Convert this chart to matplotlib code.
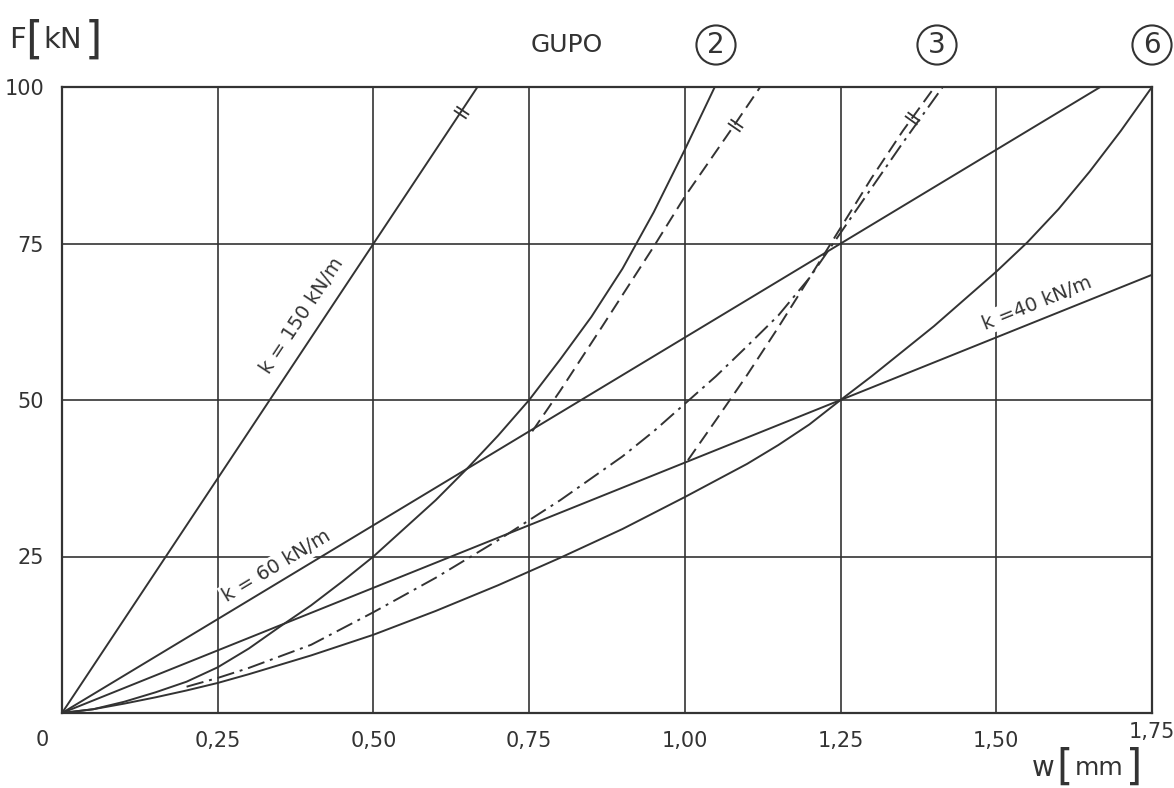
import numpy as np
import matplotlib.pyplot as plt
from matplotlib.path import Path
from matplotlib.markers import MarkerStyle
from matplotlib.transforms import Affine2D

W, H = 1174, 788
ink = '#333333'

# straight lines k = const from the origin, end point on the frame
k_text = ['k = 150 kN/m', 'k = 60 kN/m', 'k =40 kN/m']
k_w = [0.667, 1.667, 1.75]
k_F = [100, 100, 70]

# GUPO 2, solid
w2 = [0, 0.05, 0.1, 0.15, 0.2, 0.25, 0.3, 0.35, 0.4, 0.45, 0.5, 0.6, 0.65, 0.7,
      0.75, 0.8, 0.85, 0.9, 0.95, 1.0, 1.048]
F2 = [0, 0.6, 1.8, 3.3, 5.0, 7.3, 10.3, 13.8, 17.2, 21, 25, 34, 39, 44.3,
      50, 56.5, 63.3, 71, 80, 90, 100]
# GUPO 2, dashed
w2d = [0.755, 0.80, 0.867, 0.95, 1.0, 1.08, 1.121]
F2d = [45, 51.5, 61.7, 74.5, 82.5, 94, 100]
# GUPO 3, dash-dot
w3 = [0.2, 0.25, 0.3, 0.4, 0.5, 0.6, 0.7, 0.8, 0.9, 0.95, 1.0, 1.05, 1.1, 1.15,
      1.2, 1.25, 1.3, 1.35, 1.414]
F3 = [4.2, 5.6, 7.2, 10.9, 16.1, 21.6, 27.6, 34, 41, 45, 49.4, 53.8, 58.6, 63.5,
      69.5, 76.7, 83.9, 91.1, 100]
# GUPO 3, dashed
w3d = [1.005, 1.05, 1.1, 1.15, 1.2, 1.25, 1.3, 1.35, 1.401]
F3d = [40.4, 46.8, 54, 61.6, 69.5, 77.5, 85.5, 93, 100]
# GUPO 6, solid
w6 = [0, 0.05, 0.1, 0.15, 0.2, 0.25, 0.3, 0.4, 0.5, 0.6, 0.7, 0.8, 0.9, 1.0,
      1.1, 1.15, 1.2, 1.25, 1.3, 1.4, 1.5, 1.55, 1.6, 1.65, 1.7, 1.75]
F6 = [0, 0.6, 1.5, 2.5, 3.6, 4.8, 6.2, 9.2, 12.5, 16.3, 20.4, 24.8, 29.4, 34.5,
      39.8, 42.8, 46.1, 50, 53.8, 61.8, 70.5, 75.2, 80.5, 86.5, 93, 100]

x_ticks = [0, 0.25, 0.5, 0.75, 1.0, 1.25, 1.5, 1.75]
x_labels = ['', '0,25', '0,50', '0,75', '1,00', '1,25', '1,50', '']
y_ticks = [0, 25, 50, 75, 100]
y_labels = ['', '25', '50', '75', '100']


def fx(x):
    return x / W


def fy(y):
    return 1 - y / H


fig = plt.figure(figsize=(W / 100, H / 100), dpi=100)
ax = fig.add_axes([62 / W, 1 - 713 / H, 1090 / W, 626 / H])
ax.set_xlim(0, 1.75)
ax.set_ylim(0, 100)
ax.set_xticks(x_ticks)
ax.set_xticklabels(x_labels)
ax.set_yticks(y_ticks)
ax.set_yticklabels(y_labels)
ax.tick_params(length=0, labelsize=15, colors=ink, pad=13)
ax.grid(True, color=ink, lw=1.2)
ax.set_axisbelow(True)
for s in ax.spines.values():
    s.set_color(ink)
    s.set_linewidth(1.6)

lw = 1.4
for we, Fe in zip(k_w, k_F):
    ax.plot([0, we], [0, Fe], color=ink, lw=lw)
ax.plot(w2, F2, color=ink, lw=lw)
ax.plot(w2d, F2d, color=ink, lw=lw, ls=(0, (7, 3.5)))
ax.plot(w3, F3, color=ink, lw=lw, ls=(0, (9, 3, 1.5, 3)))
ax.plot(w3d, F3d, color=ink, lw=lw, ls=(0, (7, 3.5)))
ax.plot(w6, F6, color=ink, lw=lw)


def angle(w, F, at):
    p = ax.transData.transform([[np.interp(at - 3, F, w), at - 3],
                                [np.interp(at + 3, F, w), at + 3]])
    return np.degrees(np.arctan2(p[1, 1] - p[0, 1], p[1, 0] - p[0, 0]))


# "||" break marks near the top
brk = Path([(-0.3, -1), (-0.3, 1), (0.3, -1), (0.3, 1)],
           [Path.MOVETO, Path.LINETO, Path.MOVETO, Path.LINETO])


def mark(w, F, at):
    m = MarkerStyle(brk, transform=Affine2D().rotate_deg(angle(w, F, at)))
    ax.plot([np.interp(at, F, w)], [at], marker=m, ms=11, mec=ink,
            mfc='none', mew=1.3, ls='none')


mark([0, k_w[0]], [0, k_F[0]], 96)
mark(w2d, F2d, 94)
mark(w3d, F3d, 95)

# labels along the k lines
for txt, we, Fe, x, y in zip(k_text, k_w, k_F,
                             [0.385, 0.345, 1.565], [63.5, 23.5, 65.5]):
    a = angle([0, we], [0, Fe], 50 if Fe > 60 else 35)
    ax.text(x, y, txt, rotation=a, rotation_mode='anchor', ha='center',
            va='center', fontsize=14, color=ink,
            bbox=dict(fc='white', ec='none', pad=1.5))

# corner tick labels
fig.text(fx(42), fy(740), '0', fontsize=15, color=ink, ha='center', va='center')
fig.text(fx(1152), fy(732), '1,75', fontsize=15, color=ink, ha='center', va='center')

# axis titles
fig.text(fx(17), fy(40), 'F', fontsize=21, color=ink, ha='center', va='center')
fig.text(fx(34), fy(40), '[', fontsize=32, color=ink, ha='center', va='center')
fig.text(fx(63), fy(40), 'kN', fontsize=21, color=ink, ha='center', va='center')
fig.text(fx(93), fy(40), ']', fontsize=32, color=ink, ha='center', va='center')

fig.text(fx(1043), fy(768), 'w', fontsize=20, color=ink, ha='center', va='center')
fig.text(fx(1065), fy(768), '[', fontsize=30, color=ink, ha='center', va='center')
fig.text(fx(1099), fy(768), 'mm', fontsize=18, color=ink, ha='center', va='center')
fig.text(fx(1134), fy(768), ']', fontsize=30, color=ink, ha='center', va='center')

# header
fig.text(fx(567), fy(45), 'GUPO', fontsize=18, color=ink, ha='center', va='center')
for num, x in zip(['2', '3', '6'], [716, 937, 1152]):
    fig.text(fx(x), fy(45), num, fontsize=20, color=ink, ha='center', va='center',
             bbox=dict(boxstyle='circle,pad=0.2', fc='none', ec=ink, lw=1.5))

fig.savefig('out.png', dpi=100, facecolor='white')
